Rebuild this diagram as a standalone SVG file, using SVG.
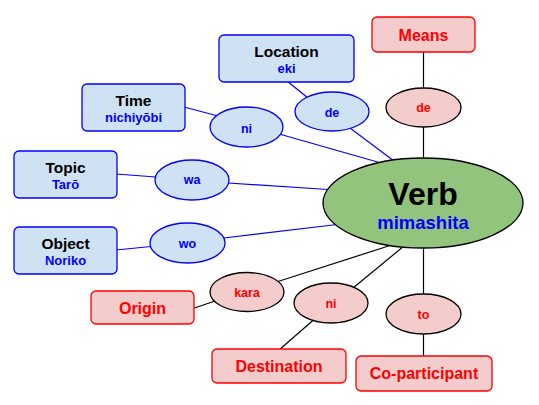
<svg xmlns="http://www.w3.org/2000/svg" width="539" height="405" viewBox="0 0 539 405">
<style>
text{font-family:"Liberation Sans",Arial,sans-serif;font-weight:bold;text-anchor:middle}
.bb{fill:#cfe2f3;stroke:#0000ff;stroke-width:1.3}
.rb{fill:#f4cccc;stroke:#ff0000;stroke-width:1.3}
.re{fill:#f4cccc;stroke:#000;stroke-width:1.3}
.t{font-size:15.5px;fill:#000}
.s{font-size:13px;fill:#0000ff}
.rt{font-size:16px;fill:#ff0000}
.bl{font-size:12.5px;fill:#0000ff}
.rl{font-size:12.5px;fill:#ff0000}
.cb{stroke:#0000ff;stroke-width:1.2;fill:none}
.ck{stroke:#000;stroke-width:1.2;fill:none}
</style>
<g id="connectors">
<line class="cb" x1="287" y1="81" x2="308" y2="98"/>
<line class="cb" x1="350" y1="128" x2="394" y2="161"/>
<line class="cb" x1="184" y1="107" x2="218" y2="116"/>
<line class="cb" x1="281" y1="134.5" x2="381" y2="163"/>
<line class="cb" x1="116" y1="174" x2="156" y2="177"/>
<line class="cb" x1="228" y1="183" x2="328" y2="189.5"/>
<line class="cb" x1="116" y1="250" x2="151" y2="246.5"/>
<line class="cb" x1="224" y1="238" x2="337" y2="224.5"/>
<line class="ck" x1="193" y1="308.5" x2="215" y2="301"/>
<line class="ck" x1="278" y1="281.5" x2="390" y2="245.5"/>
<line class="ck" x1="353" y1="288" x2="404" y2="246"/>
<line class="ck" x1="314" y1="319.5" x2="279" y2="350"/>
<line class="ck" x1="423.5" y1="51" x2="423.5" y2="89"/>
<line class="ck" x1="423.5" y1="126" x2="423.5" y2="159"/>
<line class="ck" x1="423.5" y1="247" x2="423.5" y2="295"/>
<line class="ck" x1="423.5" y1="333" x2="423.5" y2="357"/>
</g>
<g id="verb">
<ellipse cx="423" cy="203" rx="100" ry="45" fill="#93c47d" stroke="#000" stroke-width="1.3"/>
<text x="423" y="205" style="font-size:32px;fill:#000">Verb</text>
<text x="423" y="229" style="font-size:18.5px;fill:#0000ff">mimashita</text>
</g>
<g id="means">
<rect class="rb" x="372" y="17" width="103" height="35" rx="5"/>
<text class="rt" x="423.5" y="40.5">Means</text>
</g>
<g id="de-means">
<ellipse class="re" cx="423.5" cy="107.5" rx="37.5" ry="19.5"/>
<text class="rl" x="423.5" y="112">de</text>
</g>
<g id="location">
<rect class="bb" x="219" y="35" width="135" height="47" rx="5"/>
<text class="t" x="286.5" y="57.3">Location</text>
<text class="s" x="286.5" y="73">eki</text>
</g>
<g id="de-location">
<ellipse class="bb" cx="332" cy="111.5" rx="37" ry="19.5"/>
<text class="bl" x="332" y="116.5">de</text>
</g>
<g id="time">
<rect class="bb" x="82" y="84" width="103" height="47" rx="5"/>
<text class="t" x="133.5" y="106">Time</text>
<text class="s" x="133.5" y="122">nichiyōbi</text>
</g>
<g id="ni-time">
<ellipse class="bb" cx="246.5" cy="127" rx="36.5" ry="20"/>
<text class="bl" x="246.5" y="132.5">ni</text>
</g>
<g id="topic">
<rect class="bb" x="14" y="151" width="103" height="47" rx="5"/>
<text class="t" x="65.5" y="172.7">Topic</text>
<text class="s" x="65.5" y="188.7">Tarō</text>
</g>
<g id="wa">
<ellipse class="bb" cx="192" cy="180" rx="37" ry="20"/>
<text class="bl" x="192" y="184.3">wa</text>
</g>
<g id="object">
<rect class="bb" x="14" y="227" width="103" height="47" rx="5"/>
<text class="t" x="65.5" y="249.3">Object</text>
<text class="s" x="65.5" y="265">Noriko</text>
</g>
<g id="wo">
<ellipse class="bb" cx="187.5" cy="243" rx="37.5" ry="20"/>
<text class="bl" x="187.5" y="247.7">wo</text>
</g>
<g id="origin">
<rect class="rb" x="91" y="291" width="103" height="33" rx="5"/>
<text class="rt" x="142.5" y="314">Origin</text>
</g>
<g id="kara">
<ellipse class="re" cx="247" cy="292" rx="37" ry="19.5"/>
<text class="rl" x="247" y="296.7">kara</text>
</g>
<g id="ni-destination">
<ellipse class="re" cx="331" cy="303" rx="37" ry="20"/>
<text class="rl" x="331" y="308.3">ni</text>
</g>
<g id="destination">
<rect class="rb" x="212" y="349" width="134" height="34" rx="5"/>
<text class="rt" x="279" y="371.7">Destination</text>
</g>
<g id="to">
<ellipse class="re" cx="423.5" cy="314" rx="37.5" ry="20"/>
<text class="rl" x="423.5" y="319">to</text>
</g>
<g id="co-participant">
<rect class="rb" x="356" y="356" width="136" height="35" rx="5"/>
<text class="rt" x="424" y="379.3">Co-participant</text>
</g>
</svg>
